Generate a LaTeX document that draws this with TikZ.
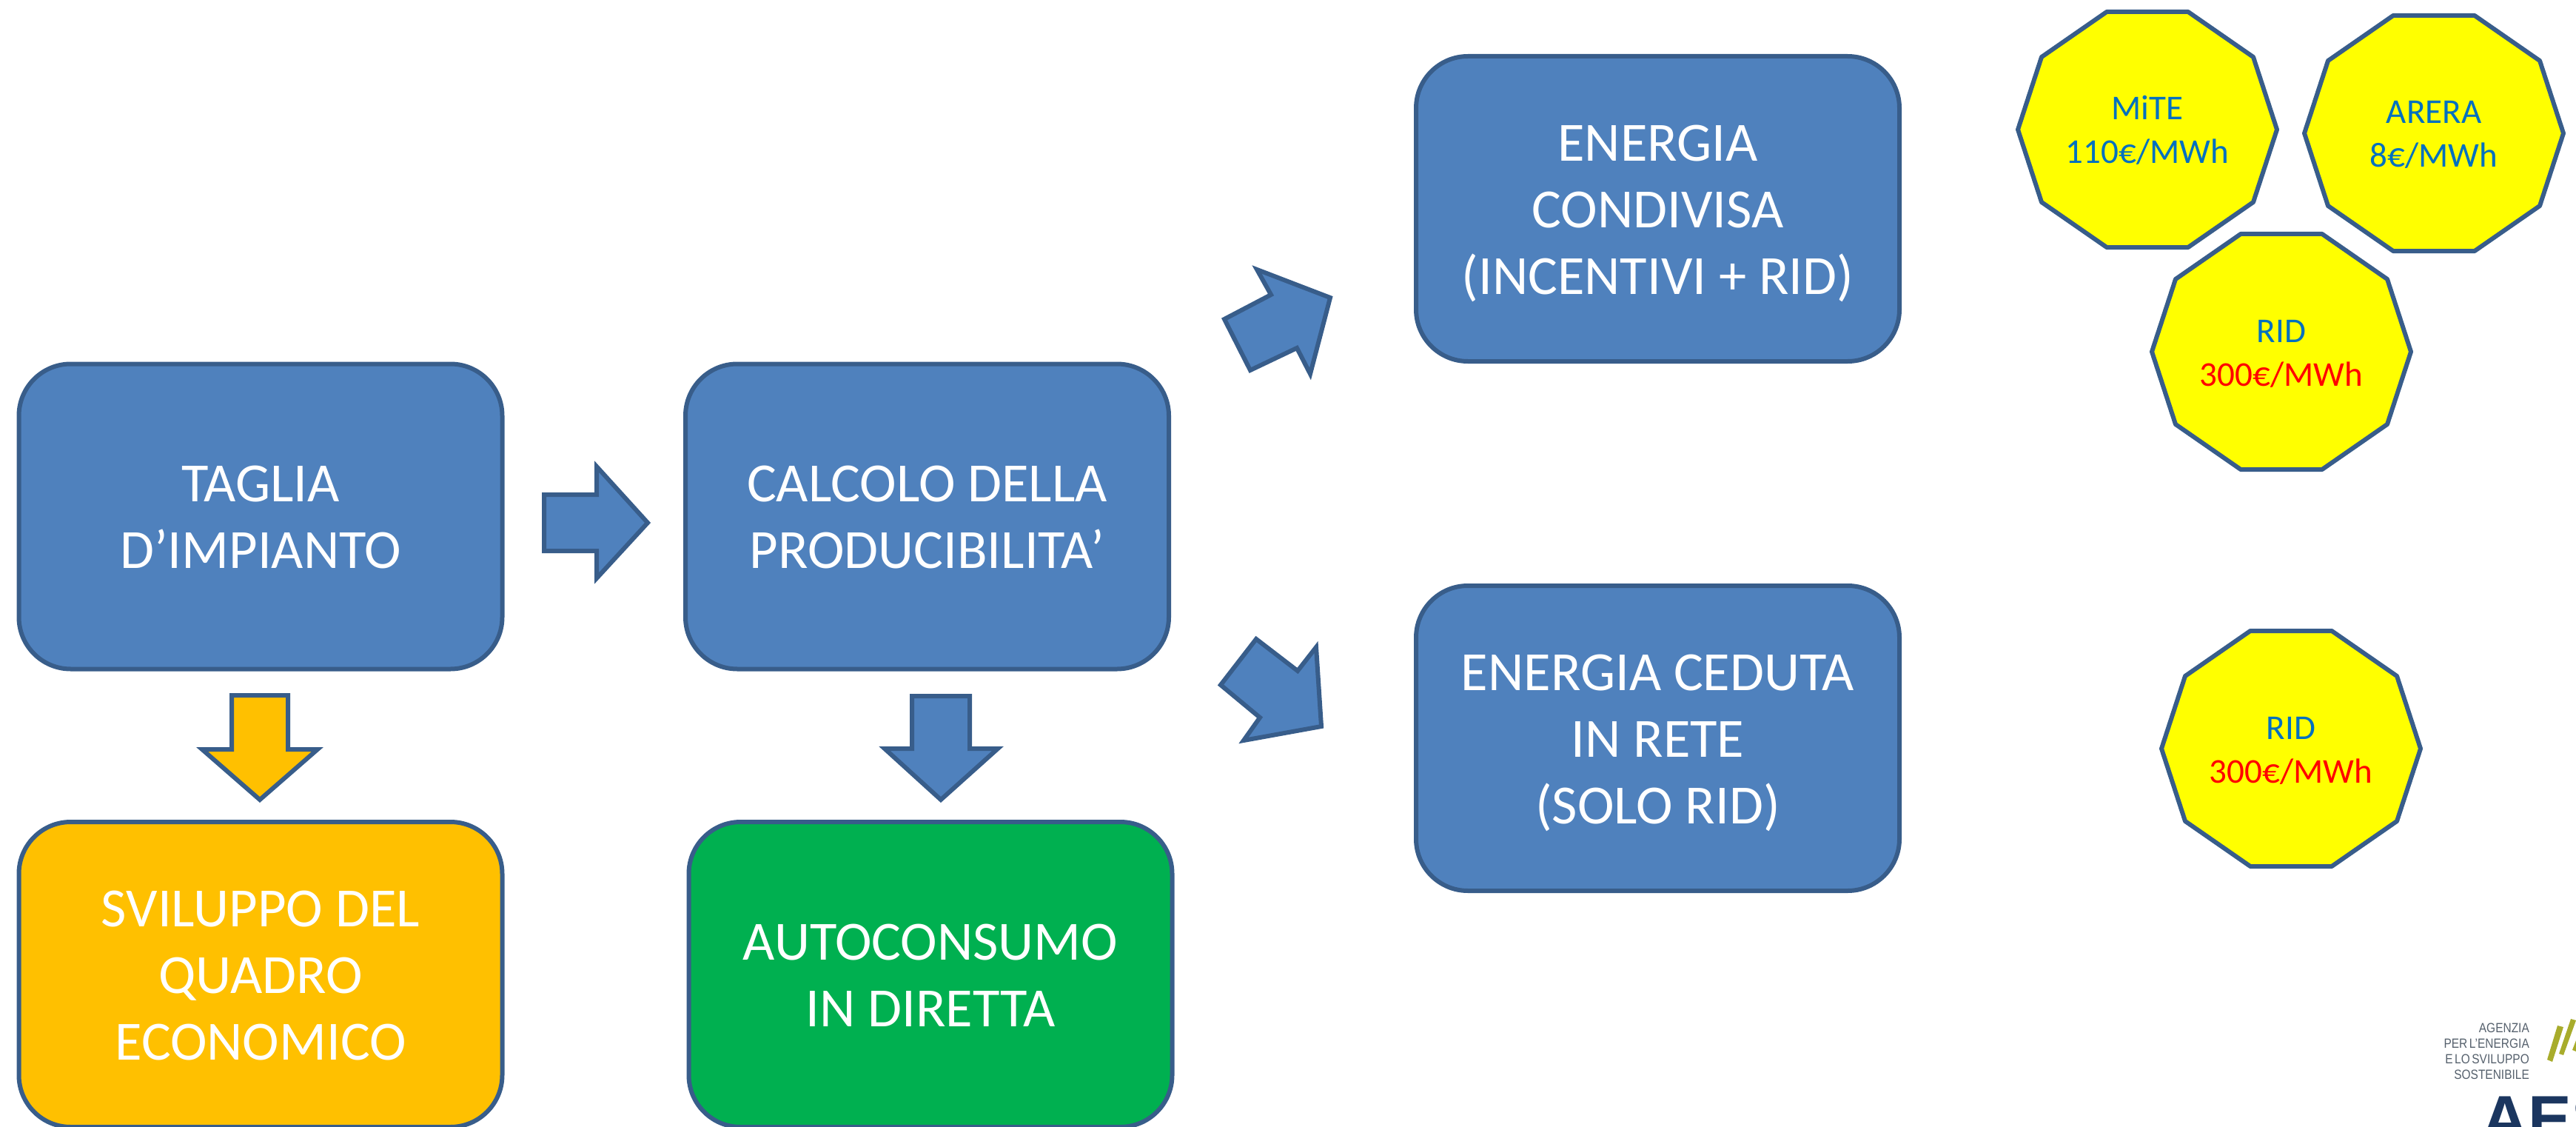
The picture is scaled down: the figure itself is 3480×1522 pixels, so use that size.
\documentclass[tikz,border=0pt]{standalone}
\usepackage{fontspec}
\setmainfont{Carlito}
\newfontfamily\logofont[FakeStretch=0.86,WordSpace=0.6]{Liberation Sans}
\newfontfamily\logobold{Liberation Sans}
\definecolor{boxblue}{HTML}{4F81BD}
\definecolor{edgeblue}{HTML}{385D8A}
\definecolor{boxorange}{HTML}{FFC000}
\definecolor{boxgreen}{HTML}{00B050}
\definecolor{polyyellow}{HTML}{FFFF00}
\definecolor{txtblue}{HTML}{0070C0}
\definecolor{txtred}{HTML}{FF0000}
\definecolor{logogrey}{HTML}{55606C}
\definecolor{logonavy}{HTML}{1B365F}
\definecolor{logoolive}{HTML}{A8AC2C}
\newcommand{\boxlead}{\rule{0pt}{70pt}}
\newcommand{\boxtail}{\rule[-20pt]{0pt}{20pt}}
\newcommand{\decalead}{\rule{0pt}{44pt}}
\newcommand{\decatail}{\rule[-11pt]{0pt}{11pt}}
\tikzset{
  stagebox/.style={draw=edgeblue,line width=6pt,rounded corners=70pt,minimum width=653pt,minimum height=412pt,
    inner sep=0pt,align=center,text=white,font=\fontsize{74.7}{90}\selectfont},
  blockarrow/.style={draw=edgeblue,line width=6pt,miter limit=10,line join=miter},
  decaline/.style={draw=edgeblue,line width=6pt,fill=polyyellow,line join=round},
  decatext/.style={inner sep=0pt,align=center,text=txtblue,font=\fontsize{47}{59}\selectfont},
  logotext/.style={inner sep=0pt,anchor=base east,text=logogrey,font=\logofont\fontsize{18}{18}\selectfont},
}
\newcommand{\decagon}[4]{%
  \draw[decaline] (#2-55,#3-159) -- (#2+55,#3-159) -- (#2+143,#3-98) -- (#2+175,#3) -- (#2+143,#3+98)
    -- (#2+55,#3+159) -- (#2-55,#3+159) -- (#2-143,#3+98) -- (#2-175,#3) -- (#2-143,#3-98) -- cycle;
  \node[decatext] (#1) at (#2,#3) {\decalead #4\decatail};}
\begin{document}
\begin{tikzpicture}[x=1pt,y=-1pt]
\useasboundingbox (0,0) rectangle (3480,1522);
\clip (0,0) rectangle (3480,1522);
% stage boxes
\node[stagebox,fill=boxblue] (taglia) at (352,697.5) {\boxlead TAGLIA\\D’IMPIANTO\boxtail};
\node[stagebox,fill=boxblue] (calcolo) at (1252.5,697.5) {\boxlead CALCOLO DELLA\\PRODUCIBILITA’\boxtail};
\node[stagebox,fill=boxorange] (sviluppo) at (352,1316) {\boxlead SVILUPPO DEL\\QUADRO\\ECONOMICO\boxtail};
\node[stagebox,fill=boxgreen] (autoconsumo) at (1257,1316) {\boxlead AUTOCONSUMO\\IN DIRETTA\boxtail};
\node[stagebox,fill=boxblue] (condivisa) at (2239.5,282) {\boxlead ENERGIA\\CONDIVISA\\(INCENTIVI + RID)\boxtail};
\node[stagebox,fill=boxblue] (ceduta) at (2239.5,997) {\boxlead ENERGIA CEDUTA\\IN RETE\\(SOLO RID)\boxtail};
% block arrows
\draw[blockarrow,fill=boxblue] (735,668) -- (806,668) -- (806,630) -- (875,706) -- (806,781) -- (806,744) -- (735,744) -- cycle;
\draw[blockarrow,fill=boxorange] (313,939) -- (389,939) -- (389,1012) -- (429,1012) -- (351,1080) -- (273,1012) -- (313,1012) -- cycle;
\draw[blockarrow,fill=boxblue] (1232,940) -- (1310,940) -- (1310,1011) -- (1348,1011) -- (1271,1080) -- (1195,1011) -- (1232,1011) -- cycle;
\draw[blockarrow,fill=boxblue] (1654,431) -- (1717,398) -- (1698,364) -- (1797,402) -- (1770,505) -- (1752,470) -- (1689,500) -- cycle;
\draw[blockarrow,fill=boxblue] (1697,863) -- (1753,906) -- (1778,874) -- (1785,981) -- (1680,1000) -- (1702,969) -- (1649,925) -- cycle;
% decagons
\decagon{mite}{2901}{175}{MiTE\\110€/MWh}
\decagon{arera}{3288}{180}{ARERA\\8€/MWh}
\decagon{ridone}{3082}{475}{RID\\\textcolor{txtred}{300€/MWh}}
\decagon{ridtwo}{3095}{1011}{RID\\\textcolor{txtred}{300€/MWh}}
% logo
\node[logotext] (logoa) at (3417,1394) {AGENZIA};
\node[logotext] (logob) at (3417,1415) {PER L’ENERGIA};
\node[logotext] (logoc) at (3417,1436) {E LO SVILUPPO};
\node[logotext] (logod) at (3417,1457) {SOSTENIBILE};
\fill[logoolive] (3455,1385) -- (3463,1387) -- (3448,1434) -- (3441,1431) -- cycle;
\fill[logoolive] (3473,1376) -- (3480,1378) -- (3463,1425) -- (3457,1423) -- cycle;
\fill[logoolive] (3480,1405) -- (3480,1420) -- (3475,1418) -- cycle;
\node[inner sep=0pt,anchor=base west,text=logonavy,font=\logobold\bfseries\fontsize{88}{88}\selectfont] (logoaes) at (3352,1541) {AES};
\end{tikzpicture}
\end{document}
